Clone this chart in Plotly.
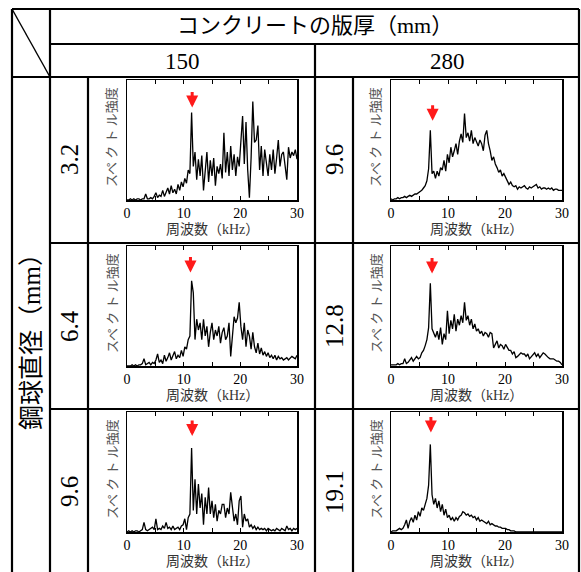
import plotly.graph_objects as go

# ---------------- data ----------------
freq_khz = [round(i * 0.3, 1) for i in range(101)]  # 0 .. 30 kHz grid

# 150 mm slab
spec_150_d32 = [
    0, 0, 1, 0, 1, 0, 1, 1, 0, 1,
    1, 5, 1, 1, 2, 1, 3, 6, 2, 4,
    3, 8, 3, 6, 10, 5, 12, 6, 9, 5,
    13, 8, 15, 11, 18, 14, 25, 22, 73, 28,
    40, 17, 34, 20, 37, 8, 28, 40, 15, 33,
    20, 35, 12, 28, 22, 30, 18, 56, 23, 40,
    20, 45, 25, 38, 20, 36, 28, 48, 70, 30,
    65, 25, 2, 35, 82, 48, 50, 62, 25, 45,
    20, 42, 30, 20, 38, 25, 42, 22, 35, 50,
    28, 38, 40, 30, 17, 44, 35, 40, 37, 42, 34,
]
spec_150_d64 = [
    0, 0, 0, 1, 0, 1, 0, 1, 1, 2,
    6, 1, 2, 3, 1, 3, 2, 5, 10, 3,
    5, 2, 9, 4, 7, 11, 5, 8, 12, 6,
    9, 7, 13, 8, 16, 14, 22, 25, 71, 61,
    22, 39, 30, 36, 22, 39, 25, 33, 16, 28,
    36, 22, 30, 25, 33, 19, 28, 32, 22, 25,
    36, 8, 28, 41, 36, 40, 53, 33, 22, 36,
    16, 30, 25, 14, 28, 16, 11, 19, 10, 15,
    9, 12, 8, 11, 7, 9, 6, 9, 5, 8,
    6, 7, 5, 6, 7, 5, 7, 8, 7, 6, 9,
]
spec_150_d96 = [
    0, 1, 0, 1, 0, 1, 1, 0, 1, 2,
    8, 2, 1, 2, 3, 4, 2, 11, 2, 3,
    2, 5, 3, 8, 3, 4, 2, 5, 2, 3,
    4, 2, 5, 6, 11, 2, 12, 15, 70, 18,
    44, 15, 40, 20, 32, 6, 29, 15, 37, 15,
    26, 12, 23, 9, 18, 15, 23, 23, 12, 20,
    15, 33, 18, 9, 15, 6, 26, 30, 4, 15,
    9, 11, 4, 6, 3, 5, 2, 4, 2, 3,
    2, 3, 1, 3, 2, 1, 2, 1, 3, 2,
    1, 3, 2, 1, 5, 2, 3, 1, 3, 2, 3,
]

# 280 mm slab
spec_280_d96 = [
    1, 0, 1, 1, 2, 1, 2, 2, 3, 2,
    3, 4, 3, 4, 5, 5, 6, 7, 8, 10,
    12, 16, 26, 58, 22, 24, 18, 24, 20, 27,
    25, 33, 24, 38, 31, 44, 36, 41, 47, 38,
    49, 55, 48, 72, 52, 56, 49, 58, 47, 52,
    49, 45, 50, 47, 41, 54, 58, 47, 41, 33,
    36, 30, 27, 23, 25, 20, 22, 19, 17, 13,
    15, 12, 11, 12, 9, 11, 10, 11, 12, 10,
    9, 11, 10, 11, 12, 13, 10, 11, 9, 10,
    10, 9, 10, 9, 10, 8, 9, 9, 8, 8, 8,
]
spec_280_d128 = [
    1, 1, 1, 1, 2, 1, 2, 2, 6, 2,
    3, 5, 7, 4, 6, 8, 6, 7, 11, 13,
    17, 22, 32, 69, 31, 27, 24, 29, 22, 32,
    18, 27, 22, 46, 27, 38, 31, 43, 29, 39,
    34, 42, 36, 53, 38, 42, 34, 39, 31, 35,
    29, 31, 27, 29, 25, 28, 27, 24, 28, 27,
    15, 18, 21, 15, 18, 17, 14, 18, 15, 13,
    13, 10, 12, 7, 8, 10, 11, 10, 10, 8,
    10, 6, 8, 9, 11, 8, 10, 7, 9, 11,
    10, 8, 7, 6, 6, 6, 5, 4, 4, 3, 1,
]
spec_280_d191 = [
    0, 1, 1, 1, 2, 3, 2, 3, 6, 10,
    3, 9, 12, 8, 14, 10, 17, 13, 20, 18,
    23, 28, 39, 73, 31, 23, 28, 20, 26, 17,
    23, 14, 19, 12, 14, 10, 12, 9, 12, 10,
    13, 14, 17, 16, 14, 15, 13, 14, 12, 13,
    10, 12, 9, 10, 9, 8, 7, 9, 6, 7,
    6, 5, 5, 4, 4, 3, 3, 3, 2, 2,
    1, 1, 1, 0, 0, 0, 0, 0, 0, 0,
    0, 0, 0, 0, 0, 0, 0, 0, 0, 0,
    0, 0, 0, 0, 0, 0, 0, 0, 0, 0, 0,
]

thickness_labels = ["150", "280"]
diameter_labels_150 = ["3.2", "6.4", "9.6"]
diameter_labels_280 = ["9.6", "12.8", "19.1"]
spectra_150 = [spec_150_d32, spec_150_d64, spec_150_d96]
spectra_280 = [spec_280_d96, spec_280_d128, spec_280_d191]
arrow_freq_150 = [11.5, 11.2, 11.5]
arrow_freq_280 = [7.3, 7.2, 7.0]
arrow_tip_150 = [77, 78, 80]
arrow_tip_280 = [66, 77, 83]

x_tick_vals = [0, 5, 10, 15, 20, 25, 30]
x_tick_text = ["0", "", "10", "", "20", "", "30"]

header_text = "コンクリートの版厚（mm）"
row_header_text = "鋼球直径（mm）"
x_title = "周波数（kHz）"
y_title = "スペ ク ト ル強度"

# ---------------- layout helpers ----------------
W, H = 581, 572
SERIF = "Liberation Serif, Noto Sans CJK JP, serif"


def px(x):
    return x / W


def py(y):
    return 1 - y / H


def label(x, y, text, size, color="black", angle=0):
    return dict(
        x=px(x), y=py(y), xref="paper", yref="paper", text=text,
        showarrow=False, textangle=angle, xanchor="center", yanchor="middle",
        font=dict(family=SERIF, size=size, color=color),
    )


fig = go.Figure()

col_frames_x = [(127, 297), (391, 562)]
row_frames_y = [(80, 200), (246, 366), (412, 532)]
row_cells = [(77, 243), (243, 409), (409, 575)]

annotations = []
shapes = []

idx = 0
for c, (spectra, labels, afreq, atip) in enumerate([
    (spectra_150, diameter_labels_150, arrow_freq_150, arrow_tip_150),
    (spectra_280, diameter_labels_280, arrow_freq_280, arrow_tip_280),
]):
    for r in range(3):
        idx += 1
        xa = "x" if idx == 1 else f"x{idx}"
        ya = "y" if idx == 1 else f"y{idx}"
        fig.add_trace(go.Scatter(
            x=freq_khz, y=spectra[r], mode="lines",
            line=dict(color="black", width=1.3),
            xaxis=xa, yaxis=ya, showlegend=False, hoverinfo="skip",
        ))
        x0, x1 = col_frames_x[c]
        y0, y1 = row_frames_y[r]
        xkey = "xaxis" if idx == 1 else f"xaxis{idx}"
        ykey = "yaxis" if idx == 1 else f"yaxis{idx}"
        fig.update_layout(**{
            xkey: dict(
                domain=[px(x0), px(x1)], anchor=ya, range=[0, 30],
                tickvals=x_tick_vals, ticktext=x_tick_text,
                ticks="inside", ticklen=4, tickwidth=1, tickcolor="black",
                showline=True, linecolor="black", linewidth=1.5, mirror="ticks",
                showgrid=False, zeroline=False, automargin=False,
                tickfont=dict(family=SERIF, size=14, color="black"),
                fixedrange=True,
            ),
            ykey: dict(
                domain=[py(y1), py(y0)], anchor=xa, range=[0, 100],
                showticklabels=False, ticks="", automargin=False,
                showline=True, linecolor="black", linewidth=1.5, mirror=True,
                showgrid=False, zeroline=False, fixedrange=True,
            ),
        })
        annotations.append(label((x0 + x1) / 2, y1 + 29.5, x_title, 14, "#333333"))
        annotations.append(label(x0 - 15, y0 + 57, y_title, 13, "#555555", -90))
        annotations.append(dict(
            x=afreq[r], y=atip[r], xref=xa, yref=ya, text="",
            showarrow=True, ax=0, ay=-17, arrowhead=2, arrowsize=0.8,
            arrowwidth=3, arrowcolor="#ff1a1a", standoff=0,
        ))
        lx = 69 if c == 0 else 334
        annotations.append(label(lx, (row_cells[r][0] + row_cells[r][1]) / 2,
                                 labels[r], 25, angle=-90))

annotations.append(label(314.5, 26, header_text, 22))
annotations.append(label(182.5, 61, thickness_labels[0], 23))
annotations.append(label(447, 61, thickness_labels[1], 23))
annotations.append(label(31, 336, row_header_text, 25, angle=-90))


def seg(x0, y0, x1, y1, w=2.2):
    shapes.append(dict(
        type="line", xref="paper", yref="paper",
        x0=px(x0), y0=py(y0), x1=px(x1), y1=py(y1),
        line=dict(color="black", width=w),
    ))


BOT = 585
seg(12, 9, 579, 9)
seg(12, 9, 12, BOT)
seg(579, 9, 579, BOT)
seg(50, 9, 50, BOT)
seg(50, 44, 579, 44)
seg(12, 77, 579, 77)
seg(315, 44, 315, BOT)
seg(88, 77, 88, BOT)
seg(353, 77, 353, BOT)
seg(50, 243, 579, 243)
seg(50, 409, 579, 409)
seg(12, 9, 50, 77, w=1.4)

fig.update_layout(
    width=W, height=H, autosize=False,
    margin=dict(l=0, r=0, t=0, b=0, pad=0),
    paper_bgcolor="white", plot_bgcolor="white",
    annotations=annotations, shapes=shapes,
    showlegend=False,
)

fig.write_html(
    "out.html",
    config={"displayModeBar": False, "staticPlot": True},
    post_script="document.body.style.margin='0';document.body.style.overflow='hidden';",
)
